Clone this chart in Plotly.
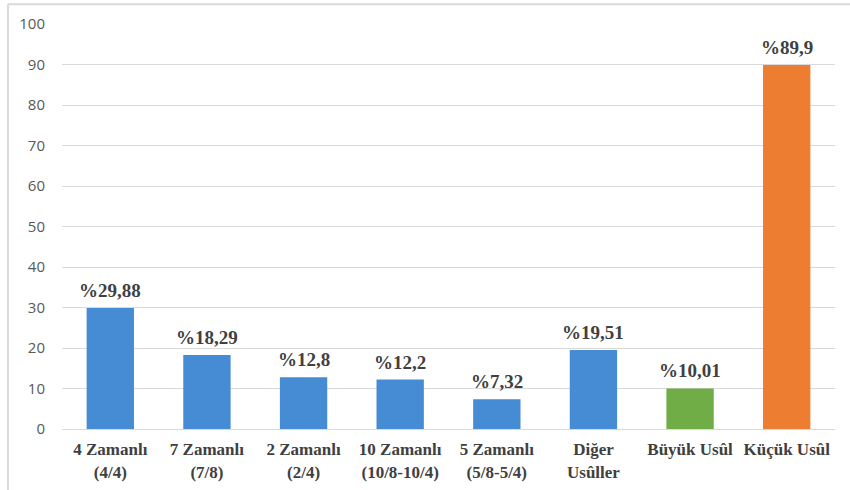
import plotly.graph_objects as go

# Usul dagilimi (yuzde)
kategoriler = ["4 Zamanlı<br>(4/4)", "7 Zamanlı<br>(7/8)", "2 Zamanlı<br>(2/4)",
               "10 Zamanlı<br>(10/8-10/4)", "5 Zamanlı<br>(5/8-5/4)", "Diğer<br>Usûller",
               "Büyük Usûl", "Küçük Usûl"]
degerler = [29.88, 18.29, 12.8, 12.2, 7.32, 19.51, 10.01, 89.9]
etiketler = ["%29,88", "%18,29", "%12,8", "%12,2", "%7,32", "%19,51", "%10,01", "%89,9"]
renkler = ["#468cd5"] * 6 + ["#70ad47", "#ed7d31"]

fig = go.Figure(go.Bar(
    x=kategoriler, y=degerler,
    marker=dict(color=renkler, line=dict(width=0)),
))

# deger etiketleri
for k, v, e in zip(kategoriler, degerler, etiketler):
    fig.add_annotation(x=k, y=v, text=e, showarrow=False, yanchor="bottom", yshift=5,
                       font=dict(family="Liberation Serif", size=19, color="#404040", weight="bold"))

fig.update_layout(
    width=850, height=490,
    margin=dict(l=62, r=15, t=24, b=61),
    paper_bgcolor="white", plot_bgcolor="white",
    bargap=0.51, showlegend=False,
    xaxis=dict(tickfont=dict(family="Liberation Serif", size=17, color="#404040", weight="bold"),
               showline=True, linecolor="#d9d9d9", ticks="", automargin=False,
               ticklabelstandoff=5),
    yaxis=dict(range=[0, 100], dtick=10, gridcolor="#d9d9d9", zeroline=False, automargin=False,
               tickfont=dict(family="Open Sans", size=15, color="#595959"),
               ticklabelstandoff=16),
)

# cerceve (sol ve ust kenar)
fig.add_shape(type="line", xref="paper", yref="paper", x0=-0.0699, x1=-0.0699, y0=1.049, y1=-0.16,
              line=dict(color="#d9d9d9", width=2))
fig.add_shape(type="line", xref="paper", yref="paper", x0=-0.0699, x1=1.05, y0=1.049, y1=1.049,
              line=dict(color="#d9d9d9", width=2))

# sayfa kenar boslugunu kaldir, arac cubugu gizli
fig.write_html("out.html", config={"displayModeBar": False},
               post_script="document.body.style.margin='0';")
